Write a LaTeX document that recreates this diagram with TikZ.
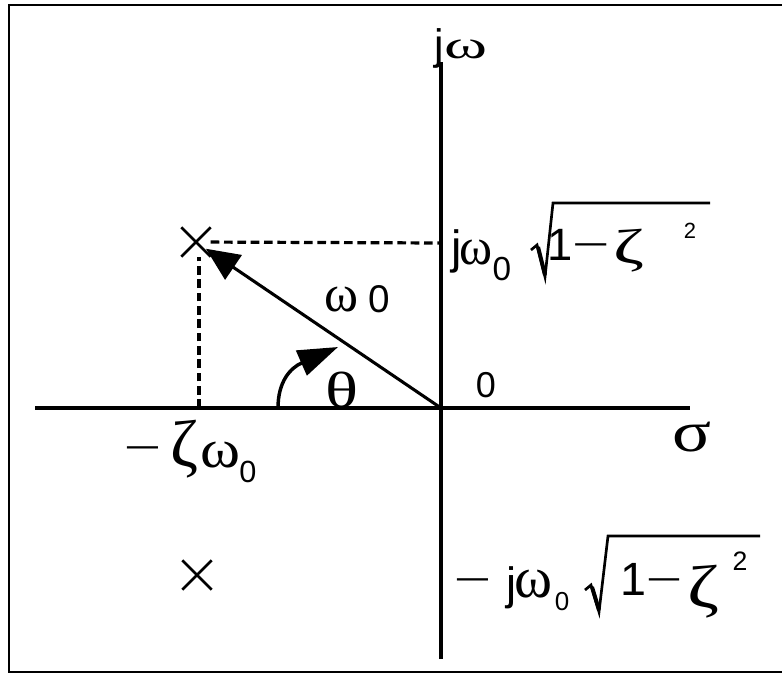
\documentclass[tikz,border=0pt]{standalone}
\usepackage{fontspec}
\usepackage{graphicx}
\setmainfont{Liberation Sans}
\newfontfamily\grk{Liberation Serif}
\usetikzlibrary{arrows.meta,shapes.misc}
\newdimen\pxu \pxu=0.75pt
\newcommand\gl[3]{\resizebox*{#1\pxu}{#2\pxu}{\grk #3}}
\newcommand\fs[1]{\fontsize{#1}{#1}\selectfont}
\newcommand\mn[1]{\scalebox{#1}[1]{\fs{24}−}}
\tikzset{
  g/.style={inner sep=0pt, outer sep=0pt, anchor=center},
  b/.style={inner sep=0pt, outer sep=0pt, anchor=base},
  bw/.style={inner sep=0pt, outer sep=0pt, anchor=base west},
  axis/.style={line width=2.6pt},
  frame/.style={line width=2pt},
  dsh/.style={line width=2.4pt, dash pattern=on 6.5pt off 3.5pt},
  pole/.style={cross out, draw, line width=2pt, minimum size=20pt, inner sep=0pt},
  vec/.style={line width=2.3pt},
  rad/.style={line width=2pt, line join=miter}
}
\begin{document}
\begin{tikzpicture}[x=0.75pt,y=-0.75pt]
\useasboundingbox (0,0) rectangle (782,676);
% frame
\draw[frame] (782,5) -- (9,5) -- (9,672) -- (782,672);
% axes
\coordinate (O) at (441,408);
\coordinate (xl) at (35,408);
\coordinate (xr) at (690,408);
\coordinate (yt) at (441,62);
\coordinate (yb) at (441,659);
\draw[axis] (xl) -- (xr);
\draw[axis] (yb) -- (yt);
% poles
\node[pole] (p1) at (196,242) {};
\node[pole] (p2) at (197,575) {};
% dashed projections
\coordinate (hy) at (441,243);
\coordinate (hx) at (199,408);
\draw[dsh] (p1) -- (hy);
\draw[dsh] (hx) -- (hx |- p1.south);
% vector
\draw[vec, -{Triangle[length=25pt,width=22pt]}, shorten >=9pt] (O) -- (p1.center);
% angle arc
\coordinate (a0) at (278,408);
\coordinate (a1) at (338,347);
\draw[line width=2.6pt, -{Triangle[length=30pt,width=20pt]}] (a0) .. controls (278,382) and (290,368) .. (a1);
% axis labels
\node[b] (tj) at (439,59) {\fs{32}j};
\node[g] (tw) at (466,49) {\gl{43}{19}{ω}};
\node[g] (sig) at (692,437) {\gl{39}{30}{σ}};
\node[b] (org) at (486,397) {\fs{27}0};
% omega0 and theta
\node[g] (lw) at (341.5,299.5) {\gl{34}{25}{ω}};
\node[b] (l0) at (379,312) {\fs{29}0};
\node[g] (th) at (342,390) {\gl{33}{36}{θ}};
% -zeta omega0
\node[b] (lm) at (142.5,458.4) {\mn{2.0}};
\node[g] (lz) at (184.5,449) {\gl{28}{58}{ζ}};
\node[g] (lo) at (220,455) {\gl{40}{26}{ω}};
\node[b] (ls) at (248,482) {\fs{23}0};
% upper label
\node[b] (uj) at (457,263) {\fs{35}j};
\node[g] (uw) at (476,252.5) {\gl{33}{25}{ω}};
\node[b] (us) at (502,280) {\fs{25}0};
\draw[rad] (531,250) -- (537,245) -- (545,277) -- (553,203) -- (710,203);
\draw[line width=3pt] (538,247) -- (545,275);
\node[bw] (u1) at (547,260) {\fs{34}1\raisebox{3.5pt}{\mn{2.0}}};
\node[g] (uz) at (629,250.5) {\gl{31}{43}{ζ}};
\node[b] (u2) at (690,238) {\fs{16.5}2};
% lower label
\node[b] (dm) at (472.5,590.4) {\mn{2.0}};
\node[b] (dj) at (512,599) {\fs{34}j};
\node[g] (dw) at (533.5,584) {\gl{38}{28}{ω}};
\node[b] (ds) at (562,610) {\fs{19.5}0};
\draw[rad] (585,590) -- (591,585) -- (599,612) -- (608,536) -- (760,536);
\draw[line width=3pt] (592,587) -- (599,610);
\node[bw] (d1) at (620,595) {\fs{35}1\raisebox{3.5pt}{\mn{1.95}}};
\node[g] (dz) at (703,591.5) {\gl{32}{53}{ζ}};
\node[b] (d2) at (740,570) {\fs{20}2};
\end{tikzpicture}
\end{document}
